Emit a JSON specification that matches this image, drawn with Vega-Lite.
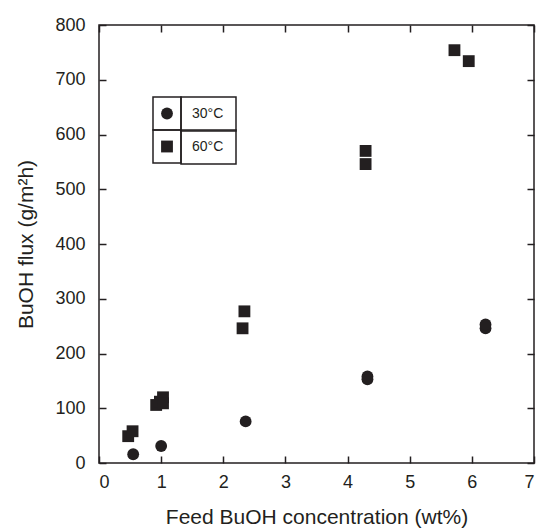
{
  "$schema": "https://vega.github.io/schema/vega-lite/v6.json",
  "width": 435,
  "height": 438,
  "autosize": {"type": "none"},
  "padding": {"left": 99, "top": 25, "right": 10, "bottom": 68},
  "background": "white",
  "config": {
    "view": {"stroke": "#231f20", "strokeWidth": 1.5},
    "font": "Liberation Sans",
    "axis": {
      "labelFont": "Liberation Sans",
      "titleFont": "Liberation Sans",
      "labelColor": "#231f20",
      "titleColor": "#231f20",
      "tickColor": "#231f20",
      "tickWidth": 1.5,
      "tickSize": 7,
      "ticks": true,
      "offset": -7,
      "grid": false,
      "domain": false,
      "zindex": 1,
      "labelFontSize": 18,
      "titleFontSize": 21,
      "titleFontWeight": "normal"
    },
    "legend": {
      "labelFont": "Liberation Sans",
      "labelColor": "#231f20",
      "labelFontSize": 14,
      "strokeColor": "#231f20",
      "strokeWidth": 1.5
    }
  },
  "data": {
    "values": [
      {"conc": 0.55, "flux": 16, "temp": "30°C"},
      {"conc": 1.0, "flux": 31, "temp": "30°C"},
      {"conc": 2.36, "flux": 76, "temp": "30°C"},
      {"conc": 4.32, "flux": 153, "temp": "30°C"},
      {"conc": 4.32, "flux": 158, "temp": "30°C"},
      {"conc": 6.22, "flux": 246, "temp": "30°C"},
      {"conc": 6.22, "flux": 253, "temp": "30°C"},
      {"conc": 0.47, "flux": 49, "temp": "60°C"},
      {"conc": 0.54, "flux": 58, "temp": "60°C"},
      {"conc": 0.92, "flux": 106, "temp": "60°C"},
      {"conc": 0.98, "flux": 112, "temp": "60°C"},
      {"conc": 1.03, "flux": 120, "temp": "60°C"},
      {"conc": 1.03, "flux": 109, "temp": "60°C"},
      {"conc": 2.31, "flux": 246, "temp": "60°C"},
      {"conc": 2.34, "flux": 277, "temp": "60°C"},
      {"conc": 4.29, "flux": 546, "temp": "60°C"},
      {"conc": 4.29, "flux": 570, "temp": "60°C"},
      {"conc": 5.72, "flux": 754, "temp": "60°C"},
      {"conc": 5.95, "flux": 734, "temp": "60°C"}
    ]
  },
  "layer": [
    {
      "mark": {"type": "point", "filled": true, "color": "#231f20", "size": 140, "opacity": 1},
      "encoding": {
        "x": {
          "field": "conc", "type": "quantitative",
          "scale": {"domain": [0, 7], "nice": false, "zero": false},
          "axis": {"values": [0, 1, 2, 3, 4, 5, 6, 7], "labelPadding": 10, "title": "Feed BuOH concentration (wt%)", "titlePadding": 15}
        },
        "y": {
          "field": "flux", "type": "quantitative",
          "scale": {"domain": [0, 800], "nice": false},
          "axis": {"values": [0, 100, 200, 300, 400, 500, 600, 700, 800], "labelPadding": 14, "title": "BuOH flux (g/m²h)", "titlePadding": 18}
        },
        "shape": {
          "field": "temp", "type": "nominal",
          "scale": {"domain": ["30°C", "60°C"], "range": ["circle", "square"]},
          "legend": {"values": ["30°C"], "orient": "none", "legendX": 54, "legendY": 72, "title": null, "labelExpr": "''", "labelOffset": 0, "padding": 7, "clipHeight": 19, "symbolSize": 140, "symbolFillColor": "#231f20", "symbolStrokeColor": "#231f20", "symbolOpacity": 1}
        }
      }
    },
    {
      "mark": {"type": "point", "filled": true, "color": "#231f20", "size": 140, "opacity": 0},
      "encoding": {
        "x": {
          "field": "conc", "type": "quantitative",
          "scale": {"domain": [0, 7], "nice": false, "zero": false},
          "axis": {"orient": "top", "values": [0, 1, 2, 3, 4, 5, 6, 7], "labels": false, "title": null}
        },
        "y": {
          "field": "flux", "type": "quantitative",
          "scale": {"domain": [0, 800], "nice": false},
          "axis": {"orient": "right", "values": [0, 100, 200, 300, 400, 500, 600, 700, 800], "labels": false, "title": null}
        },
        "shape": {
          "field": "temp", "type": "nominal",
          "scale": {"domain": ["30°C", "60°C"], "range": ["circle", "square"]},
          "legend": {"values": ["60°C"], "orient": "none", "legendX": 54, "legendY": 105, "title": null, "labelExpr": "''", "labelOffset": 0, "padding": 7, "clipHeight": 19, "symbolSize": 140, "symbolFillColor": "#231f20", "symbolStrokeColor": "#231f20", "symbolOpacity": 1}
        }
      }
    },
    {
      "mark": {"type": "point", "filled": true, "color": "#231f20", "size": 1, "opacity": 0},
      "encoding": {
        "x": {"field": "conc", "type": "quantitative", "scale": {"domain": [0, 7], "nice": false, "zero": false}, "axis": null},
        "y": {"field": "flux", "type": "quantitative", "scale": {"domain": [0, 800], "nice": false}, "axis": null},
        "shape": {
          "field": "temp", "type": "nominal",
          "scale": {"domain": ["30°C", "60°C"], "range": ["circle", "square"]},
          "legend": {"values": ["30°C"], "orient": "none", "legendX": 82, "legendY": 72, "title": "\u00a0", "titleOrient": "right", "titlePadding": 3, "titleFontSize": 4, "labelOffset": -13, "padding": 10, "clipHeight": 13, "symbolSize": 1, "symbolOpacity": 0, "symbolStrokeWidth": 0}
        }
      }
    },
    {
      "mark": {"type": "point", "filled": true, "color": "#231f20", "size": 1, "opacity": 0},
      "encoding": {
        "x": {"field": "conc", "type": "quantitative", "scale": {"domain": [0, 7], "nice": false, "zero": false}, "axis": null},
        "y": {"field": "flux", "type": "quantitative", "scale": {"domain": [0, 800], "nice": false}, "axis": null},
        "shape": {
          "field": "temp", "type": "nominal",
          "scale": {"domain": ["30°C", "60°C"], "range": ["circle", "square"]},
          "legend": {"values": ["60°C"], "orient": "none", "legendX": 82, "legendY": 105, "title": "\u00a0", "titleOrient": "right", "titlePadding": 3, "titleFontSize": 4, "labelOffset": -13, "padding": 10, "clipHeight": 13, "symbolSize": 1, "symbolOpacity": 0, "symbolStrokeWidth": 0}
        }
      }
    }
  ],
  "resolve": {
    "scale": {"shape": "independent"},
    "legend": {"shape": "independent"},
    "axis": {"x": "independent", "y": "independent"}
  }
}
